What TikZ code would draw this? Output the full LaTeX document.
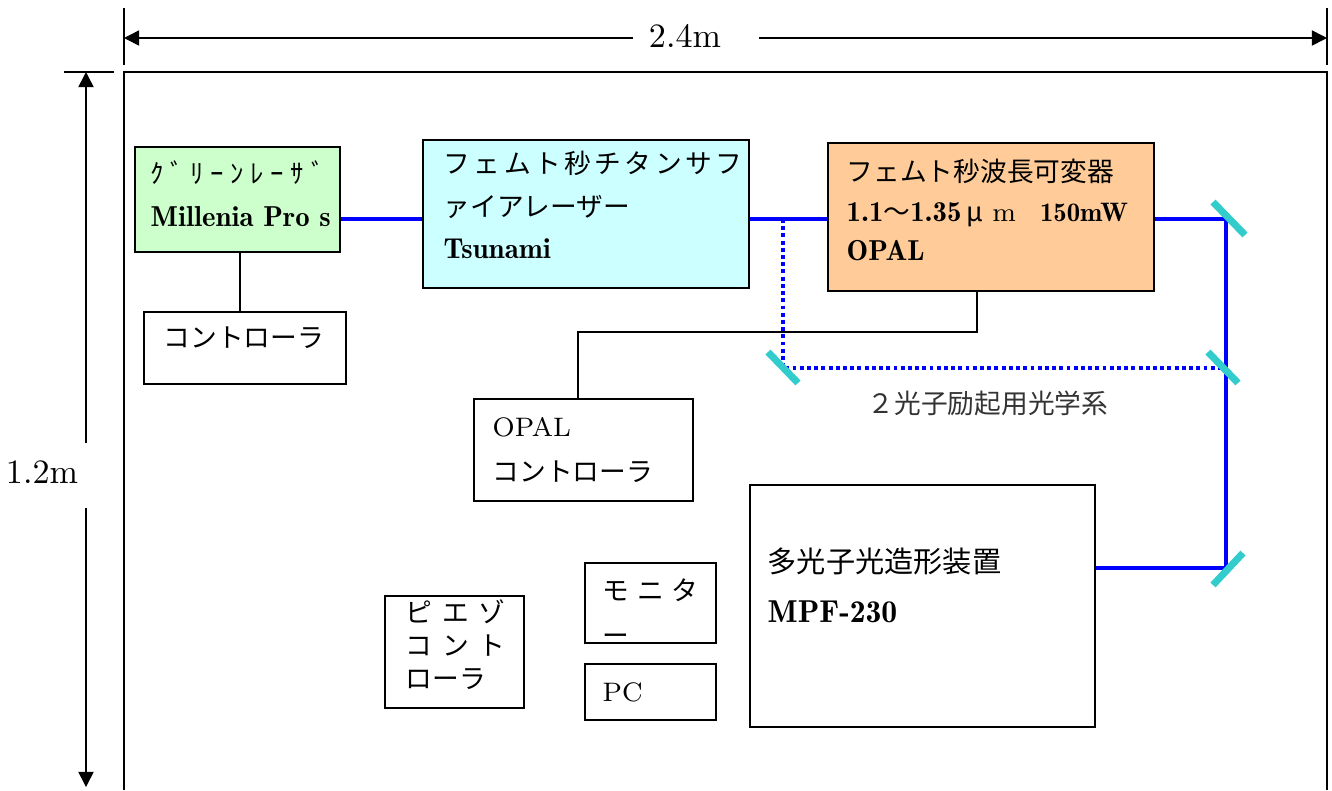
\documentclass[tikz,border=0pt]{standalone}
\usepackage{fontspec}
\newfontfamily\cjk{Noto Sans CJK JP}
\newfontface\demi{Latin Modern Roman Demi}
\usetikzlibrary{positioning,arrows.meta}
\definecolor{lasergreen}{HTML}{CCFFCC}
\definecolor{tsunamicyan}{HTML}{CCFFFF}
\definecolor{opalorange}{HTML}{FFCC99}
\definecolor{mirrorcyan}{HTML}{33CCCC}
\tikzset{
  box/.style={draw, line width=0.6pt, inner sep=0pt},
  txt/.style={anchor=west, inner sep=0pt, align=left, font=\fontsize{7.6}{12}\selectfont},
  beam/.style={blue, line width=1.15pt},
  probe/.style={blue, line width=1.1pt, dash pattern=on 1.1pt off 0.95pt},
  wire/.style={line width=0.5pt},
  mirror/.style={draw=mirrorcyan, line width=2pt},
  dim/.style={line width=0.45pt},
  dimarrow/.style={dim, -{Triangle[length=4.3pt,width=4.3pt]}}
}
\newcommand\bold[1]{{\demi\fontsize{8.2}{12}\selectfont #1}}

\begin{document}
\begin{tikzpicture}[x=0.01cm, y=-0.01cm]
    \useasboundingbox (0,0) rectangle (1332,790);

    % table frame and its size
    \draw [line width=0.6pt] (124,790) -- (124,72) -- (1327,72) -- (1327,790);
    \coordinate (wl) at (124,38);
    \coordinate (wr) at (1327,38);
    \coordinate (ht) at (86,72);
    \coordinate (hb) at (86,787);
    \draw [dim] (124,8) -- (124,65);
    \draw [dim] (1327,8) -- (1327,65);
    \draw [dim] (64,72) -- (114,72);
    \node (width) at (685,36) {\fontsize{9.7}{10}\selectfont 2.4m};
    \node (height) at (42,472) {\fontsize{9.7}{10}\selectfont 1.2m};
    \draw [dimarrow] (633,38) -- (wl);
    \draw [dimarrow] (759,38) -- (wr);
    \draw [dimarrow] (86,443) -- (ht);
    \draw [dimarrow] (86,508) -- (hb);

    % boxes
    \node (laser)    [box, fill=lasergreen, minimum width=2.05cm, minimum height=1.05cm] at (237.5,199.5) {};
    \node (ctrl)     [box, minimum width=2.02cm, minimum height=0.72cm] at (245,348) {};
    \node (tsunami)  [box, fill=tsunamicyan, minimum width=3.26cm, minimum height=1.48cm] at (586,214) {};
    \node (opal)     [box, fill=opalorange, minimum width=3.26cm, minimum height=1.48cm] at (991,217) {};
    \node (opalctrl) [box, minimum width=2.19cm, minimum height=1.02cm] at (583.5,450) {};
    \node (mpf)      [box, minimum width=3.45cm, minimum height=2.42cm] at (922.5,606) {};
    \node (piezo)    [box, minimum width=1.39cm, minimum height=1.12cm] at (454.5,652) {};
    \node (monitor)  [box, minimum width=1.31cm, minimum height=0.80cm] at (650.5,603) {};
    \node (pc)       [box, minimum width=1.31cm, minimum height=0.56cm] at (650.5,692) {};

    % texts
    \node (lasertxt) [txt, font=\fontsize{7.6}{12.2}\selectfont] at (150,193.5)
        {{\cjk\addfontfeature{LetterSpace=25}ｸﾞﾘｰﾝﾚｰｻﾞ}\\\bold{Millenia Pro s}};
    \node (ctrltxt) [txt] at (163,338) {\cjk コントローラ};
    \node (tsunamitxt) [txt] at (443,205)
        {{\cjk\addfontfeature{LetterSpace=13}フェムト秒チタンサフ}\\{\cjk ァイアレーザー}\\\bold{Tsunami}};
    \node (opaltxt) [txt, font=\fontsize{7.6}{11.3}\selectfont] at (846,210)
        {{\cjk フェムト秒波長可変器}\\\bold{1.1}{\cjk ～}\bold{1.35}\hspace{1.5pt}{\cjk μ}\hspace{2.5pt}m\hspace{0.9em}{\demi 150mW}\\\bold{OPAL}};
    \node (opalctrltxt) [txt] at (492,450) {OPAL\\[1pt]{\cjk コントローラ}};
    \node (mpftxt) [txt, font=\fontsize{8.3}{14.2}\selectfont] at (767,585)
        {{\cjk 多光子光造形装置}\\{\demi\fontsize{9}{14.2}\selectfont MPF-230}};
    \node (piezotxt) [txt, font=\fontsize{7.6}{9.4}\selectfont\cjk] at (405,645)
        {ピ\hspace{2.8pt}エ\hspace{2.8pt}ゾ\\コ\hspace{2.8pt}ン\hspace{2.8pt}ト\\ローラ};
    \node (monitortxt) [txt, font=\fontsize{7.6}{12.8}\selectfont\cjk] at (602,612)
        {モ\hspace{2.2pt}ニ\hspace{2.2pt}タ\\ー};
    \node (pctxt) [txt] at (602,692) {PC};
    \node (optics) [inner sep=0pt, text=black!80, font=\fontsize{7.6}{9}\selectfont] at (988,403)
        {\cjk ２光子励起用光学系};

    % beam path
    \coordinate (beam) at (0,219);
    \coordinate (m1) at (1226,219);
    \coordinate (m2) at (783,368);
    \coordinate (m3) at (1226,368);
    \coordinate (m4) at (1226,568);
    \draw [beam] (laser.east |- beam) -- (tsunami.west |- beam);
    \draw [beam] (tsunami.east |- beam) -- (opal.west |- beam);
    \draw [beam] (opal.east |- beam) -- (m1) -- (m4) -- (mpf.east |- m4);
    \draw [probe] (m2 |- beam) -- (m2) -- (m3);

    % mirrors
    \draw [mirror] (m1) ++(-13,-17) -- ++(32,33);
    \draw [mirror] (m2) ++(-15,-16) -- ++(30,31);
    \draw [mirror] (m3) ++(-18,-16) -- ++(30,31);
    \draw [mirror] (m4) ++(-13,17) -- ++(30,-32);

    % cables
    \coordinate (tap) at (977,332);
    \coordinate (tap2) at (578,332);
    \draw [wire] (laser.south -| 240,0) -- (ctrl.north -| 240,0);
    \draw [wire] (opal.south -| tap) -- (tap) -- (tap2) -- (opalctrl.north -| tap2);

\end{tikzpicture}
\end{document}
